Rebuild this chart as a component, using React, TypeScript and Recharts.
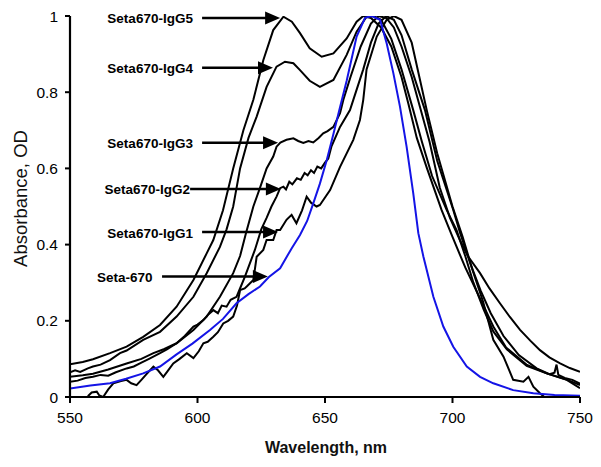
import React from 'react';
import { LineChart, Line, XAxis, YAxis, ReferenceLine } from 'recharts';

type Pair = [number, number];

// Wavelength (nm) / absorbance (OD) pairs
const seta670: Pair[] = [
  [550, 0.022], [558, 0.03], [565.7, 0.036], [572, 0.048], [578.7, 0.062], [585.3, 0.08], [591.8, 0.112],
  [598, 0.14], [604.9, 0.176], [610, 0.205], [615.3, 0.246], [620, 0.27], [624.5, 0.29], [628, 0.315],
  [632.4, 0.338], [636.9, 0.39], [640.2, 0.425], [643, 0.462], [645.4, 0.508], [648, 0.56], [650.7, 0.622],
  [653.3, 0.69], [655.5, 0.75], [658.5, 0.83], [662.4, 0.946], [665.7, 0.995], [668.3, 1.0], [671.6, 0.99],
  [674.2, 0.928], [676.8, 0.85], [679.4, 0.762], [682, 0.657], [684.6, 0.535], [686.6, 0.43], [688.6, 0.368],
  [692.5, 0.263], [696.4, 0.185], [700.3, 0.132], [705.6, 0.08], [710.8, 0.053], [716, 0.036], [723.8, 0.018],
  [731.7, 0.01], [740, 0.005], [750, 0.003],
];

const igg5: Pair[] = [
  [550, 0.086], [555, 0.092], [559, 0.099], [565.7, 0.115], [572.2, 0.132], [578.7, 0.158], [585.3, 0.189],
  [591.8, 0.237], [598.4, 0.307], [603.6, 0.377], [606.2, 0.412], [610, 0.49], [614, 0.6], [618, 0.7],
  [621.9, 0.78], [625.8, 0.884], [629.7, 0.963], [633.7, 0.998], [637, 0.985], [640.2, 0.955], [644, 0.915],
  [648.7, 0.893], [653.3, 0.902], [658.5, 0.941], [662.4, 0.985], [665, 1.0], [668, 0.995], [672, 0.97],
  [676, 0.92], [680, 0.84], [682.7, 0.77], [686, 0.68], [690, 0.6], [695.7, 0.491], [700, 0.42], [705, 0.34],
  [710, 0.27], [716, 0.185], [721, 0.13], [729, 0.085], [737, 0.062], [745, 0.045], [750, 0.031],
];

const igg4: Pair[] = [
  [550, 0.065], [552, 0.07], [554, 0.066], [557, 0.075], [559, 0.08], [562, 0.085], [565.7, 0.097],
  [569.6, 0.115], [572.2, 0.122], [578.7, 0.15], [585.3, 0.171], [591.8, 0.211], [598.4, 0.263], [603.6, 0.325],
  [608.8, 0.394], [611.4, 0.44], [614, 0.5], [616.7, 0.6], [620, 0.68], [623.2, 0.736], [627.1, 0.814],
  [631, 0.867], [634.3, 0.88], [637.6, 0.876], [640.2, 0.858], [644, 0.83], [648, 0.814], [653.3, 0.832],
  [658.5, 0.898], [662.4, 0.959], [666.3, 0.998], [669, 1.0], [672, 0.99], [676, 0.94], [680, 0.86],
  [684.6, 0.753], [688, 0.67], [692, 0.58], [697.7, 0.491], [701.6, 0.438], [705, 0.37], [708.2, 0.3],
  [712.2, 0.23], [716, 0.172], [721.3, 0.125], [729.1, 0.082], [736.9, 0.062], [744.8, 0.045], [750, 0.023],
];

const igg3: Pair[] = [
  [550, 0.053], [555, 0.057], [559, 0.061], [565, 0.072], [572.2, 0.088], [578, 0.1], [582.7, 0.115],
  [587, 0.126], [591.8, 0.141], [598.4, 0.176], [603.6, 0.211], [608.8, 0.263], [614, 0.325], [616.7, 0.37],
  [619, 0.43], [621.9, 0.5], [624.5, 0.549], [627.1, 0.6], [629.7, 0.631], [631, 0.657], [632.5, 0.668],
  [634.9, 0.675], [637.6, 0.679], [639.5, 0.672], [641.5, 0.667], [643.5, 0.672], [645.4, 0.668], [647.5, 0.68],
  [649.3, 0.692], [651, 0.698], [653.3, 0.709], [655.9, 0.745], [657.2, 0.78], [660, 0.84], [664, 0.92],
  [668, 0.98], [671, 1.0], [674, 0.995], [677, 0.97], [680, 0.92], [684, 0.84], [687.3, 0.76], [691, 0.67],
  [695, 0.55], [699, 0.47], [702.9, 0.412], [706, 0.37], [710.8, 0.325], [714.5, 0.285], [718.6, 0.246],
  [722.5, 0.21], [726.5, 0.176], [730.5, 0.148], [734.3, 0.123], [738, 0.104], [742.2, 0.088], [746, 0.076],
  [750, 0.066],
];

const igg2: Pair[] = [
  [550, 0.04], [553, 0.043], [556, 0.05], [559, 0.053], [562, 0.058], [565, 0.056], [568, 0.065],
  [572.2, 0.075], [575, 0.08], [578, 0.09], [581, 0.1], [585.3, 0.115], [588, 0.125], [591.8, 0.141],
  [595, 0.16], [598.4, 0.185], [600, 0.19], [602.3, 0.202], [604, 0.215], [606.2, 0.228], [608, 0.22],
  [609.5, 0.24], [611.4, 0.237], [613, 0.255], [615.3, 0.263], [617, 0.29], [618.6, 0.316], [620.5, 0.35],
  [622.5, 0.386], [625, 0.44], [627.1, 0.47], [629, 0.5], [631, 0.526], [632.4, 0.548], [633.7, 0.552],
  [634.7, 0.545], [636, 0.565], [637.2, 0.558], [639, 0.574], [640.5, 0.57], [642, 0.588], [643.2, 0.582],
  [644.5, 0.595], [645.7, 0.588], [647, 0.605], [648.5, 0.6], [650, 0.615], [651.3, 0.626], [652.5, 0.657],
  [655.9, 0.709], [659.8, 0.753], [661.1, 0.78], [665, 0.86], [668, 0.93], [671, 0.98], [674, 1.0],
  [677, 0.99], [680, 0.95], [684, 0.86], [689.2, 0.753], [694, 0.62], [700.3, 0.491], [703, 0.43],
  [707, 0.35], [711, 0.28], [715, 0.22], [720, 0.16], [726, 0.11], [733, 0.075], [738, 0.06], [740, 0.064],
  [740.8, 0.085], [741.5, 0.058], [744, 0.05], [747, 0.045], [750, 0.035],
];

const igg1: Pair[] = [
  [557, 0.002], [558.5, 0.012], [560.5, 0.014], [561.5, 0.004], [563, 0.0], [565, 0.02], [567, 0.036],
  [570, 0.042], [572.2, 0.045], [574, 0.036], [576.1, 0.031], [578, 0.045], [580, 0.06], [582.7, 0.08],
  [584.5, 0.07], [586.6, 0.053], [588.5, 0.07], [590.5, 0.088], [593, 0.1], [595.8, 0.115], [598.4, 0.102],
  [600.5, 0.12], [602.3, 0.141], [604, 0.145], [606.2, 0.158], [608, 0.17], [610.1, 0.193], [612, 0.2],
  [614, 0.211], [615.5, 0.24], [616.7, 0.281], [618.5, 0.285], [619.3, 0.29], [621.9, 0.307], [623.2, 0.368],
  [625.8, 0.386], [627.1, 0.412], [629.7, 0.412], [631, 0.438], [632.4, 0.438], [634.9, 0.465],
  [636.9, 0.478], [638.8, 0.456], [641, 0.49], [642.8, 0.526], [644.5, 0.51], [646.7, 0.5], [648, 0.504],
  [652, 0.543], [655.9, 0.604], [661.1, 0.675], [663.7, 0.727], [665, 0.78], [666.3, 0.86], [670.3, 0.946],
  [674.2, 0.99], [677, 1.0], [680, 0.99], [684, 0.93], [689.9, 0.753], [694, 0.64], [700, 0.5], [704, 0.42],
  [708, 0.33], [712, 0.25], [716, 0.15], [720, 0.106], [723.8, 0.045], [727.8, 0.04], [729.8, 0.053],
  [731.7, 0.027], [734.3, 0.01], [736, 0.0],
];

const xTicks = [550, 600, 650, 700, 750];
const yTicks = [0, 0.2, 0.4, 0.6, 0.8, 1];

// Arrow annotations (data coordinates)
const annotations = [
  { label: 'Seta670-IgG5', od: 0.995, textEndNm: 598.2, fromNm: 601.8, toNm: 632.4 },
  { label: 'Seta670-IgG4', od: 0.864, textEndNm: 598.2, fromNm: 601.8, toNm: 629.6 },
  { label: 'Seta670-IgG3', od: 0.667, textEndNm: 598.2, fromNm: 601.8, toNm: 631.6 },
  { label: 'Seta670-IgG2', od: 0.546, textEndNm: 597.1, fromNm: 597.1, toNm: 632.7 },
  { label: 'Seta670-IgG1', od: 0.433, textEndNm: 598.2, fromNm: 601.8, toNm: 631.6 },
  { label: 'Seta-670', od: 0.316, textEndNm: 582.4, fromNm: 586.1, toNm: 627.6 },
];

const blackSeries = [igg5, igg4, igg3, igg2, igg1];

const toPts = (arr: Pair[]) => arr.map(([nm, od]) => ({ nm, od }));

const NARROW = "'Liberation Sans Narrow', 'Arial Narrow', 'Liberation Sans', Arial, sans-serif";
const SANS = "'Liberation Sans', Arial, Helvetica, sans-serif";

const renderArrow = (p: any, ann: (typeof annotations)[number]) => {
  const { x1, y1, x2 } = p;
  const pxPerNm = (x2 - x1) / (ann.toNm - ann.fromNm);
  const textX = x1 - (ann.fromNm - ann.textEndNm) * pxPerNm;
  const headLen = 15;
  const headHalf = 6.5;
  return (
    <g>
      <line x1={x1} y1={y1} x2={x2 - headLen + 1} y2={y1} stroke="#000" strokeWidth={2.5} />
      <polygon
        points={`${x2},${y1} ${x2 - headLen},${y1 - headHalf} ${x2 - headLen},${y1 + headHalf}`}
        fill="#000"
      />
      <text
        x={textX}
        y={y1 + 1}
        textAnchor="end"
        dominantBaseline="central"
        fontWeight="bold"
        fontSize={13.5}
        fontFamily={SANS}
        fill="#000"
      >
        {ann.label}
      </text>
    </g>
  );
};

const XTitle = (props: any) => {
  const vb = props.viewBox || {};
  return (
    <text
      x={vb.x + vb.width / 2 + 1}
      y={vb.y + 50}
      textAnchor="middle"
      dominantBaseline="central"
      fontWeight="bold"
      fontSize={16}
      fontFamily={SANS}
      fill="#111"
    >
      Wavelength, nm
    </text>
  );
};

const YTitle = (props: any) => {
  const vb = props.viewBox || {};
  const cx = vb.x + 20;
  const cy = vb.y + vb.height / 2 - 8;
  return (
    <text
      x={cx}
      y={cy}
      transform={`rotate(-90, ${cx}, ${cy})`}
      textAnchor="middle"
      dominantBaseline="central"
      fontSize={18.5}
      fontFamily={SANS}
      fill="#111"
    >
      Absorbance, OD
    </text>
  );
};

export default function App() {
  return (
    <div style={{ position: 'absolute', left: 0, top: 0, width: 601, height: 467, background: '#fff' }}>
      <LineChart width={601} height={467} margin={{ top: 16, right: 21, bottom: 0, left: 0 }}>
        <XAxis
          type="number"
          dataKey="nm"
          domain={[550, 750]}
          ticks={xTicks}
          allowDataOverflow
          height={70}
          tickSize={6}
          tickMargin={9}
          axisLine={{ stroke: '#000', strokeWidth: 2.2 }}
          tickLine={{ stroke: '#000', strokeWidth: 2 }}
          tick={{ fill: '#000', fontSize: 15.5, fontFamily: NARROW }}
          label={{ content: XTitle }}
        />
        <YAxis
          type="number"
          domain={[0, 1]}
          ticks={yTicks}
          allowDataOverflow
          width={70}
          tickSize={5}
          tickMargin={7}
          axisLine={{ stroke: '#000', strokeWidth: 2.2 }}
          tickLine={{ stroke: '#000', strokeWidth: 2 }}
          tick={{ fill: '#000', fontSize: 15.5, fontFamily: NARROW }}
          label={{ content: YTitle }}
        />
        {blackSeries.map((s, i) => (
          <Line
            key={i}
            data={toPts(s)}
            dataKey="od"
            type="linear"
            stroke="#000"
            strokeWidth={2}
            dot={false}
            activeDot={false}
            isAnimationActive={false}
          />
        ))}
        <Line
          data={toPts(seta670)}
          dataKey="od"
          type="linear"
          stroke="#1414e6"
          strokeWidth={2}
          dot={false}
          activeDot={false}
          isAnimationActive={false}
        />
        {annotations.map((a) => (
          <ReferenceLine
            key={a.label}
            segment={[{ x: a.fromNm, y: a.od }, { x: a.toNm, y: a.od }]}
            ifOverflow="visible"
            shape={(p: any) => renderArrow(p, a)}
          />
        ))}
      </LineChart>
    </div>
  );
}
